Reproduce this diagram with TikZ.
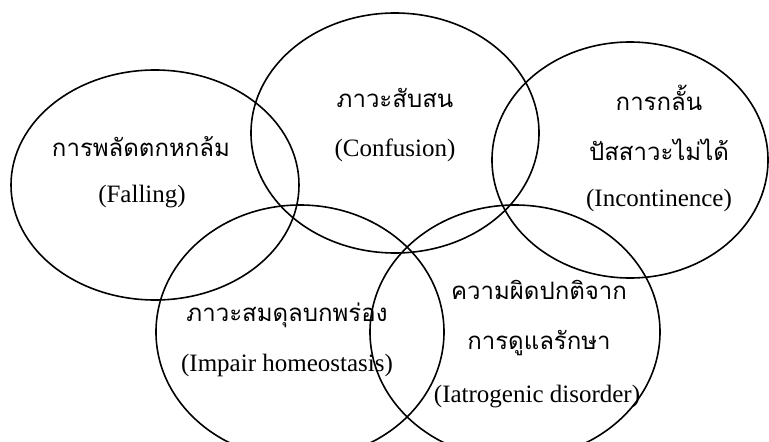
\documentclass[tikz,border=0pt]{standalone}
\usepackage{fontspec}
\setmainfont{Liberation Serif}
\newfontfamily\thaifont[Script=Thai]{Loma}

\begin{document}
\begin{tikzpicture}[x=1pt,y=-1pt,
  ring/.style={line width=1.6pt},
  thai/.style={font=\thaifont\fontsize{24}{28}\selectfont},
  eng/.style={font=\fontsize{25}{29}\selectfont}]
  \useasboundingbox (0,0) rectangle (769,442);
  % the five problems
  \draw[ring] (155,185) ellipse [x radius=144, y radius=115];
  \draw[ring] (395,133) ellipse [x radius=144, y radius=120];
  \draw[ring] (630,160) ellipse [x radius=138, y radius=118];
  \draw[ring] (300,332) ellipse [x radius=144, y radius=127];
  \draw[ring] (515,332) ellipse [x radius=145, y radius=127];
  % labels
  \node[thai] (fallth) at (141,147) {การพลัดตกหกล้ม};
  \node[eng] (fallen) at (142,197) {(Falling)};
  \node[thai] (confth) at (395,98) {ภาวะสับสน};
  \node[eng] (confen) at (395,150) {(Confusion)};
  \node[thai] (incth) at (659,98) {การกลั้น};
  \node[thai] (incthb) at (659,150) {ปัสสาวะไม่ได้};
  \node[eng] (incen) at (659,200) {(Incontinence)};
  \node[thai] (homth) at (287,315) {ภาวะสมดุลบกพร่อง};
  \node[eng] (homen) at (287,365) {(Impair homeostasis)};
  \node[thai] (iatth) at (539,290) {ความผิดปกติจาก};
  \node[thai] (iatthb) at (539,343) {การดูแลรักษา};
  \node[eng] (iaten) at (537,397) {(Iatrogenic disorder)};
\end{tikzpicture}
\end{document}
